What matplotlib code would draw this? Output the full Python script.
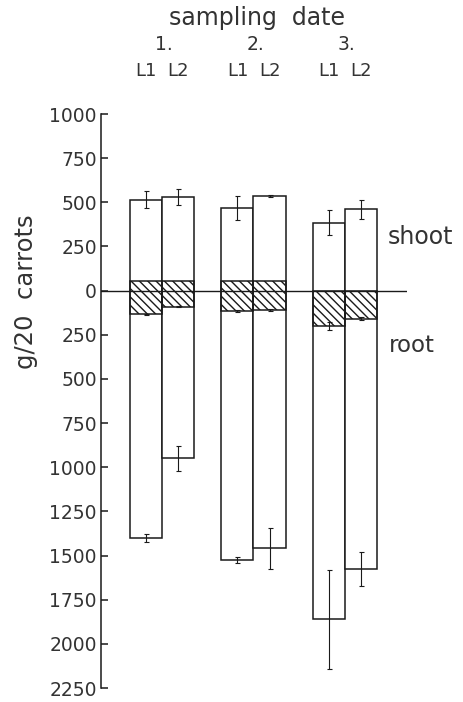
import numpy as np
import matplotlib
matplotlib.use("Agg")
import matplotlib.pyplot as plt
from matplotlib.transforms import blended_transform_factory

# values (g/20 carrots); root plotted downwards
dates = ["1.", "2.", "3."]
lines = ["L1", "L2"]
shoot = np.array([515, 530, 470, 535, 385, 460])
shoot_err = np.array([48, 48, 68, 4, 72, 53])
root = np.array([1400, 950, 1525, 1460, 1860, 1575])
root_err = np.array([22, 70, 15, 117, 280, 97])
hatch_top = np.array([55, 55, 55, 55, 0, 0])
hatch_bot = np.array([135, 90, 115, 110, 200, 160])
hatch_err = np.array([5, 5, 5, 5, 25, 8])
yticks = [1000, 750, 500, 250, 0, -250, -500, -750, -1000, -1250, -1500, -1750, -2000, -2250]

plt.rcParams['font.family'] = ['DejaVu Sans']
W, H = 463, 702
fig = plt.figure(figsize=(W / 100, H / 100), dpi=100)
ax = fig.add_axes([101 / W, 1 - 688 / H, (407 - 101) / W, (688 - 114) / H])

bw = 0.35
x = np.array([g + o for g in range(3) for o in (-bw / 2, bw / 2)])
ink = '#1a1a1a'
txt = '#333333'

ax.bar(x, shoot + root, bottom=-root, width=bw, color='white', edgecolor=ink, linewidth=1.1, zorder=2)
plt.rcParams['hatch.linewidth'] = 1.0
plt.rcParams['hatch.color'] = ink
ax.bar(x, hatch_top + hatch_bot, bottom=-hatch_bot, width=bw, fill=False, edgecolor=ink,
       hatch='\\\\\\\\', linewidth=1.1, zorder=3)
ax.axhline(0, color=ink, linewidth=1.0, zorder=4)

ekw = dict(fmt='none', ecolor=ink, elinewidth=0.8, capsize=1.8, capthick=0.8, zorder=5)
ax.errorbar(x, shoot, yerr=shoot_err, **ekw)
ax.errorbar(x, -root, yerr=root_err, **ekw)
ax.errorbar(x, -hatch_bot, yerr=hatch_err, **ekw)

ax.set_xlim(-0.667, 2.678)
ax.set_ylim(-2250, 1000)
for s in ['top', 'right', 'bottom']:
    ax.spines[s].set_visible(False)
ax.spines['left'].set_color(ink)
ax.spines['left'].set_linewidth(1.1)
ax.set_xticks([])
ax.set_yticks(yticks)
ax.set_yticklabels([str(abs(t)) for t in yticks])
ax.tick_params(axis='y', direction='in', length=5, width=1.1, color=ink,
               labelsize=13.5, labelcolor=txt, pad=3)

fig.text(26 / W, 1 - 292 / H, "g/20  carrots", rotation=90, ha='center', va='center',
         fontsize=17.5, color=txt)

tr = blended_transform_factory(ax.transData, fig.transFigure)
fig.text(257 / W, 1 - 18 / H, "sampling  date", ha='center', va='center', fontsize=17, color=txt)
for i, d in enumerate(dates):
    ax.text(i + 0.02, 1 - 45 / H, d, transform=tr, ha='center', va='center', fontsize=13.5, color=txt)
    for j, l in enumerate(lines):
        ax.text(x[2 * i + j], 1 - 71 / H, l, transform=tr, ha='center', va='center', fontsize=13, color=txt)

fig.text(388 / W, 1 - 237 / H, "shoot", ha='left', va='center', fontsize=17, color=txt)
fig.text(389 / W, 1 - 345 / H, "root", ha='left', va='center', fontsize=16.5, color=txt)

fig.savefig("out.png", dpi=100, facecolor='white')
